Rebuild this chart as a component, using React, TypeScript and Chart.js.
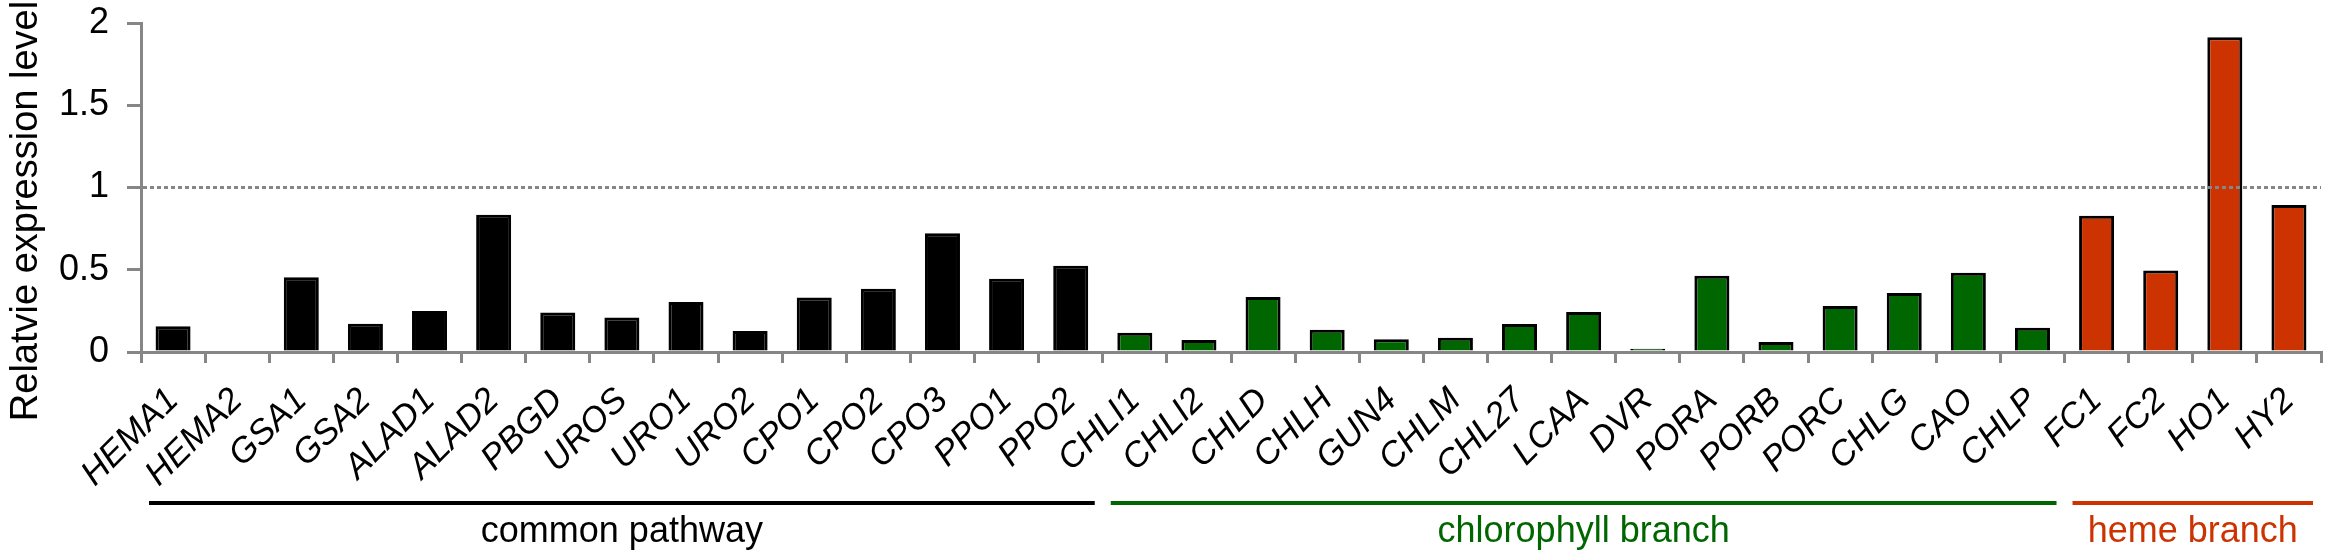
import React, { useEffect, useRef } from 'react';
import { Chart, registerables } from 'chart.js';

Chart.register(...registerables);

const genes = [
  'HEMA1', 'HEMA2', 'GSA1', 'GSA2', 'ALAD1', 'ALAD2', 'PBGD', 'UROS', 'URO1', 'URO2',
  'CPO1', 'CPO2', 'CPO3', 'PPO1', 'PPO2',
  'CHLI1', 'CHLI2', 'CHLD', 'CHLH', 'GUN4', 'CHLM', 'CHL27', 'LCAA', 'DVR', 'PORA',
  'PORB', 'PORC', 'CHLG', 'CAO', 'CHLP',
  'FC1', 'FC2', 'HO1', 'HY2',
];

const expression = [
  0.156, 0, 0.455, 0.172, 0.25, 0.834, 0.24, 0.209, 0.304, 0.128,
  0.331, 0.385, 0.722, 0.446, 0.525,
  0.117, 0.073, 0.334, 0.136, 0.077, 0.087, 0.17, 0.243, 0.02, 0.464,
  0.061, 0.279, 0.358, 0.482, 0.148,
  0.828, 0.496, 1.913, 0.893,
];

const groupLabels = ['common pathway', 'chlorophyll branch', 'heme branch'];
const groupSizes = [15, 15, 4];
const groupColors = ['#000000', '#006600', '#cc3300'];

const yTicks = [0, 0.5, 1, 1.5, 2];
const referenceLevel = 1;
const yTitle = 'Relatvie expression level';

const FONT = '"Liberation Sans", Arial, Helvetica, sans-serif';
const AXIS_GRAY = '#868686';

export default function App() {
  const ref = useRef<HTMLCanvasElement | null>(null);

  useEffect(() => {
    document.body.style.margin = '0';
    const canvas = ref.current;
    if (!canvas) return;

    const colors: string[] = [];
    groupSizes.forEach((n, g) => {
      for (let i = 0; i < n; i++) colors.push(groupColors[g]);
    });

    const decor = {
      id: 'decor',
      afterDatasetsDraw(chart: any) {
        const { ctx, chartArea } = chart;
        const y = chart.scales.y.getPixelForValue(referenceLevel);
        ctx.save();
        ctx.strokeStyle = AXIS_GRAY;
        ctx.lineWidth = 3;
        ctx.setLineDash([4, 3]);
        ctx.beginPath();
        ctx.moveTo(chartArea.left + 2, y);
        ctx.lineTo(chartArea.right, y);
        ctx.stroke();
        ctx.restore();
      },
      afterDraw(chart: any) {
        const { ctx } = chart;
        const xs = chart.scales.x;
        // y title
        ctx.save();
        ctx.translate(27, 211);
        ctx.rotate(-Math.PI / 2);
        ctx.fillStyle = '#000';
        ctx.font = `38px ${FONT}`;
        ctx.textAlign = 'center';
        ctx.textBaseline = 'middle';
        ctx.fillText(yTitle, 0, 0);
        ctx.restore();

        // group brackets
        const step = xs.getPixelForValue(1) - xs.getPixelForValue(0);
        let start = 0;
        groupSizes.forEach((n, g) => {
          const x0 = xs.getPixelForValue(start) - step / 2 + 8;
          const x1 = xs.getPixelForValue(start + n - 1) + step / 2 - 8;
          ctx.save();
          ctx.strokeStyle = groupColors[g];
          ctx.lineWidth = 4;
          ctx.beginPath();
          ctx.moveTo(x0, 503);
          ctx.lineTo(x1, 503);
          ctx.stroke();
          ctx.fillStyle = groupColors[g];
          ctx.font = `36px ${FONT}`;
          ctx.textAlign = 'center';
          ctx.textBaseline = 'alphabetic';
          ctx.fillText(groupLabels[g], (x0 + x1) / 2, 542);
          ctx.restore();
          start += n;
        });
      },
    };

    const chart = new Chart(canvas, {
      type: 'bar',
      data: {
        labels: genes,
        datasets: [
          {
            data: expression,
            backgroundColor: colors,
            borderColor: '#000000',
            borderWidth: 3,
            barPercentage: 1,
            categoryPercentage: 0.546,
          },
        ],
      },
      options: {
        animation: false,
        responsive: false,
        devicePixelRatio: 1,
        layout: { padding: { top: 23, right: 12, left: 0, bottom: 0 } },
        plugins: {
          legend: { display: false },
          tooltip: { enabled: false },
        },
        scales: {
          x: {
            offset: true,
            grid: {
              offset: true,
              drawOnChartArea: false,
              drawTicks: true,
              tickLength: 11,
              color: AXIS_GRAY,
              lineWidth: 3,
            },
            border: { display: true, color: AXIS_GRAY, width: 3 },
            ticks: {
              autoSkip: false,
              minRotation: 45,
              maxRotation: 45,
              color: '#000',
              padding: 17,
              labelOffset: 0,
              font: { family: FONT, size: 35, style: 'italic' },
            },
            afterFit(scale: any) {
              scale.height = 207;
              scale.paddingLeft = 0;
              scale.paddingRight = 0;
            },
          },
          y: {
            min: 0,
            max: 2,
            afterBuildTicks(scale: any) {
              scale.ticks = yTicks.map((v) => ({ value: v }));
            },
            grid: {
              drawOnChartArea: false,
              drawTicks: true,
              tickLength: 14,
              color: AXIS_GRAY,
              lineWidth: 3,
            },
            border: { display: true, color: AXIS_GRAY, width: 3 },
            ticks: {
              color: '#000',
              padding: 18,
              font: { family: FONT, size: 36 },
              callback: (v: any) => String(v),
            },
            afterFit(scale: any) {
              scale.width = 141;
              scale.paddingTop = 0;
              scale.paddingBottom = 0;
            },
          },
        },
      },
      plugins: [decor],
    });

    return () => chart.destroy();
  }, []);

  return (
    <div style={{ width: 2333, height: 559 }}>
      <canvas ref={ref} width={2333} height={559} style={{ display: 'block' }} />
    </div>
  );
}
